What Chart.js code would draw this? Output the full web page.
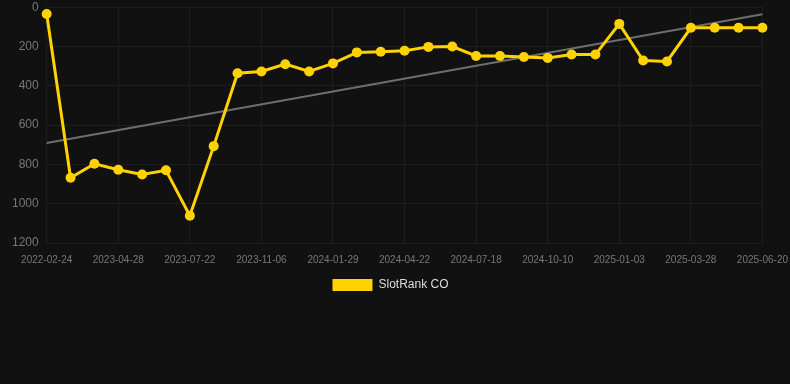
<!DOCTYPE html>
<html>
<head>
<meta charset="utf-8">
<script src="https://cdn.jsdelivr.net/npm/chart.js@4/dist/chart.umd.min.js"></script>
<style>
  html, body { margin: 0; padding: 0; background: #111111; overflow: hidden; }
  #wrap { width: 790px; height: 384px; position: relative; overflow: hidden; }
  #rank-chart { position: absolute; left: 4px; top: -8px; }
</style>
</head>
<body>
<div id="wrap"><canvas id="rank-chart" width="795" height="309"></canvas></div>
<script>
// dates (only every 3rd one is shown on the axis)
const dates = [
  '2022-02-24', '2022-06-10', '2022-11-18', '2023-04-28', '2023-05-26', '2023-06-23',
  '2023-07-22', '2023-08-26', '2023-10-02', '2023-11-06', '2023-12-04', '2024-01-02',
  '2024-01-29', '2024-02-26', '2024-03-25', '2024-04-22', '2024-05-20', '2024-06-19',
  '2024-07-18', '2024-08-15', '2024-09-12', '2024-10-10', '2024-11-07', '2024-12-05',
  '2025-01-03', '2025-01-31', '2025-02-28', '2025-03-28', '2025-04-25', '2025-05-23',
  '2025-06-20'
];
const rankCO = [
  35, 868, 797, 827, 851, 830, 1061, 707, 336, 327, 290, 327, 286, 230, 227, 222,
  202, 200, 248, 248, 253, 258, 241, 241, 85, 271, 276, 105, 105, 105, 105
];
// trend line: start and end only
const trendStart = 691;
const trendEnd = 36;
const yTicks = { min: 0, max: 1200, step: 200 };

const trend = dates.map((d, i) => i === 0 ? trendStart : (i === dates.length - 1 ? trendEnd : null));

const font = 'Arial, "Liberation Sans", sans-serif';

// legend sits a little left of centre in the original
const legendShift = {
  id: 'legendShift',
  afterLayout(chart) {
    chart.legend.left -= 11;
    chart.legend.right -= 11;
  }
};

const ctx = document.getElementById('rank-chart').getContext('2d');
new Chart(ctx, {
  type: 'line',
  data: {
    labels: dates,
    datasets: [
      {
        label: 'SlotRank CO',
        data: rankCO,
        borderColor: '#ffd200',
        backgroundColor: '#ffd200',
        borderWidth: 3,
        pointRadius: 5,
        pointBorderWidth: 0,
        pointHoverRadius: 6,
        tension: 0
      },
      {
        label: 'trend',
        data: trend,
        borderColor: '#6e6e6e',
        borderWidth: 2,
        pointRadius: 0,
        spanGaps: true
      }
    ]
  },
  options: {
    responsive: false,
    animation: false,
    plugins: {
      legend: {
        position: 'bottom',
        labels: {
          color: '#dddddd',
          font: { family: font, size: 12 },
          boxWidth: 40,
          boxHeight: 12,
          padding: 2,
          generateLabels: chart => Chart.defaults.plugins.legend.labels.generateLabels(chart)
            .filter(l => l.text !== 'trend')
            .map(l => Object.assign(l, { lineWidth: 0 }))
        }
      },
      tooltip: { enabled: false }
    },
    scales: {
      x: {
        grid: { color: '#1e1e1e', drawTicks: false },
        border: { color: '#1e1e1e' },
        ticks: {
          color: '#777777',
          font: { family: font, size: 10 },
          maxRotation: 0,
          autoSkip: false,
          padding: 11,
          callback: (v, i) => i % 3 === 0 ? dates[i] : null
        }
      },
      y: {
        reverse: true,
        min: yTicks.min,
        max: yTicks.max,
        grid: { color: '#1e1e1e', drawTicks: false },
        border: { display: false },
        ticks: {
          stepSize: yTicks.step,
          color: '#777777',
          font: { family: font, size: 12 },
          padding: 8,
          callback: v => String(v)
        }
      }
    }
  },
  plugins: [legendShift]
});
</script>
</body>
</html>
